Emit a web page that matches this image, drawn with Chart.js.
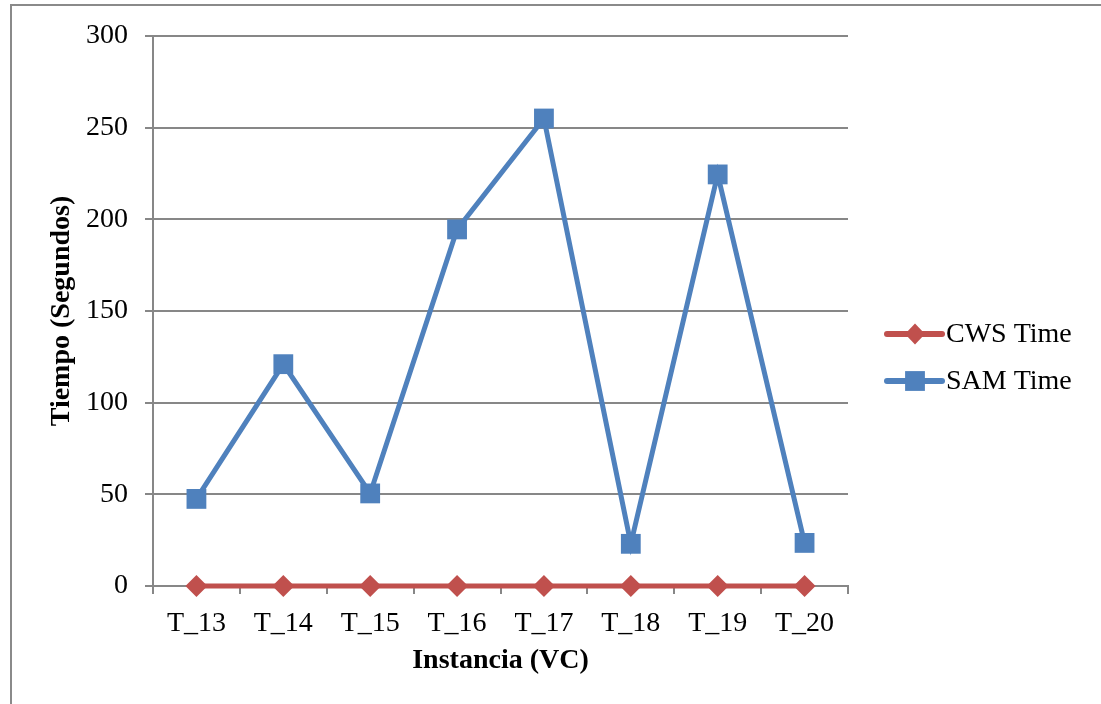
<!DOCTYPE html>
<html>
<head>
<meta charset="utf-8">
<script src="https://cdn.jsdelivr.net/npm/chart.js@4/dist/chart.umd.min.js"></script>
<style>
  html, body { margin: 0; padding: 0; background: #ffffff; }
  #wrap { width: 1101px; height: 704px; }
  canvas { display: block; }
</style>
</head>
<body>
<div id="wrap"><canvas id="chart" width="1101" height="704"></canvas></div>
<script>
// Instances on the horizontal axis
const categories = ['T_13', 'T_14', 'T_15', 'T_16', 'T_17', 'T_18', 'T_19', 'T_20'];
// Running times in seconds
const cwsTime = [0, 0, 0, 0, 0, 0, 0, 0];
const samTime = [47.5, 121, 50.5, 194.5, 255, 23, 224.5, 23.5];
// Vertical axis ticks
const yTicks = [0, 50, 100, 150, 200, 250, 300];

const FONT = '"Liberation Serif", "Times New Roman", serif';
const FONT_SIZE = 28;
const AXIS_GREY = '#878787';

// Outer frame around the whole figure
const framePlugin = {
  id: 'frame',
  beforeDraw(chart) {
    const ctx = chart.ctx;
    ctx.save();
    ctx.fillStyle = '#ffffff';
    ctx.fillRect(0, 0, chart.width, chart.height);
    ctx.strokeStyle = '#8a8a8a';
    ctx.lineWidth = 2;
    ctx.strokeRect(11, 5, 1300, 900);
    ctx.restore();
  }
};

// Legend on the right: line sample with its marker, then the label
const sideLegend = {
  id: 'sideLegend',
  afterDraw(chart) {
    const ctx = chart.ctx;
    const x0 = 887, x1 = 942, xm = 915, xt = 946;
    ctx.save();
    chart.data.datasets.forEach((ds, i) => {
      const y = 334 + i * 47;
      ctx.strokeStyle = ds.borderColor;
      ctx.lineWidth = 6;
      ctx.lineCap = 'round';
      ctx.beginPath();
      ctx.moveTo(x0, y);
      ctx.lineTo(x1, y);
      ctx.stroke();
      ctx.fillStyle = ds.pointBackgroundColor;
      ctx.beginPath();
      if (ds.pointStyle === 'rect') {
        const h = ds.pointRadius * Math.SQRT1_2;
        ctx.rect(xm - h, y - h, 2 * h, 2 * h);
      } else {
        const hw = 10, hh = 10.5;
        ctx.moveTo(xm, y - hh);
        ctx.lineTo(xm + hw, y);
        ctx.lineTo(xm, y + hh);
        ctx.lineTo(xm - hw, y);
        ctx.closePath();
      }
      ctx.fill();
      ctx.fillStyle = '#000000';
      ctx.font = FONT_SIZE + 'px ' + FONT;
      ctx.textAlign = 'left';
      ctx.textBaseline = 'middle';
      ctx.fillText(ds.label, xt, y + 1);
    });
    ctx.restore();
  }
};

new Chart(document.getElementById('chart'), {
  type: 'line',
  data: {
    labels: categories,
    datasets: [
      {
        label: 'CWS Time',
        data: cwsTime,
        borderColor: '#C0504D',
        backgroundColor: '#C0504D',
        pointBackgroundColor: '#C0504D',
        pointBorderColor: '#C0504D',
        borderWidth: 5,
        pointStyle: 'rectRot',
        pointRadius: 11,
        pointBorderWidth: 0,
        tension: 0,
        clip: false
      },
      {
        label: 'SAM Time',
        data: samTime,
        borderColor: '#4F81BD',
        backgroundColor: '#4F81BD',
        pointBackgroundColor: '#4F81BD',
        pointBorderColor: '#4F81BD',
        borderWidth: 5,
        pointStyle: 'rect',
        pointRadius: 14,
        pointBorderWidth: 0,
        tension: 0,
        clip: false
      }
    ]
  },
  options: {
    responsive: false,
    animation: false,
    devicePixelRatio: 1,
    layout: { padding: { left: 0, top: 36, right: 253, bottom: 0 } },
    plugins: {
      legend: { display: false },
      tooltip: { enabled: false }
    },
    scales: {
      x: {
        offset: true,
        grid: {
          drawOnChartArea: false,
          offset: true,
          drawTicks: true,
          tickLength: 8,
          color: AXIS_GREY,
          lineWidth: 2
        },
        border: { color: AXIS_GREY, width: 2 },
        ticks: {
          color: '#000000',
          font: { family: FONT, size: FONT_SIZE },
          padding: 13,
          maxRotation: 0
        },
        title: {
          display: true,
          text: 'Instancia (VC)',
          color: '#000000',
          font: { family: FONT, size: FONT_SIZE, weight: 'bold' },
          padding: { top: 26, bottom: 26 }
        },
        afterFit(scale) { scale.height = 118; }
      },
      y: {
        min: 0,
        max: 300,
        afterBuildTicks(scale) { scale.ticks = yTicks.map(v => ({ value: v })); },
        grid: {
          color: AXIS_GREY,
          lineWidth: 2,
          tickLength: 8
        },
        border: { color: AXIS_GREY, width: 2 },
        ticks: {
          color: '#000000',
          font: { family: FONT, size: FONT_SIZE },
          padding: 17
        },
        title: {
          display: true,
          text: 'Tiempo (Segundos)',
          color: '#000000',
          font: { family: FONT, size: FONT_SIZE, weight: 'bold' },
          padding: { top: 45, bottom: 0 }
        },
        afterFit(scale) { scale.width = 153; }
      }
    }
  },
  plugins: [framePlugin, sideLegend]
});
</script>
</body>
</html>
